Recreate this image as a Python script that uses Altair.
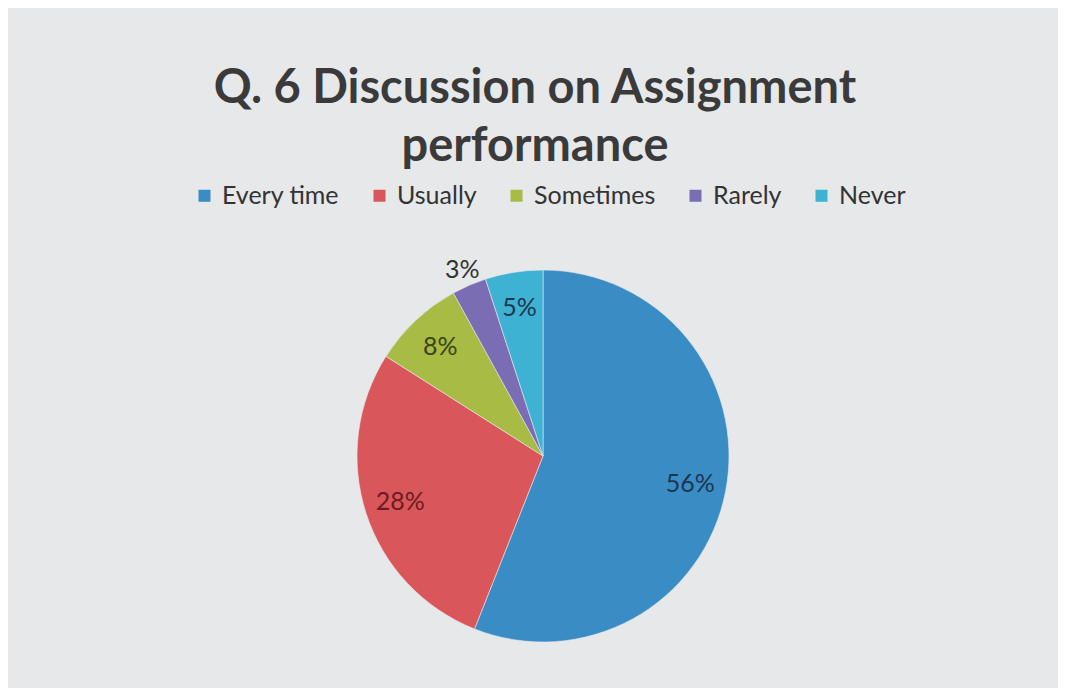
import altair as alt
import pandas as pd

CATEGORIES = ["Every time", "Usually", "Sometimes", "Rarely", "Never"]
PERCENTS = [56, 28, 8, 3, 5]
COLORS = ["#3a8cc4", "#d9575b", "#a7bb45", "#7b6db3", "#3db2d3"]
LABEL_COLORS = ["#1d3650", "#6e1b20", "#3b4418", "#333333", "#1d3650"]
TITLE_LINES = ["Q. 6 Discussion on Assignment", "performance"]

df = pd.DataFrame({
    "category": CATEGORIES,
    "pct": PERCENTS,
    "order": list(range(len(CATEGORIES))),
    "label": [f"{p}%" for p in PERCENTS],
    "lcolor": LABEL_COLORS,
})
title_df = pd.DataFrame({"line": TITLE_LINES, "row": list(range(len(TITLE_LINES)))})

W, H = 1050, 680
CX, CY = 535, 448
R = 186

theta_scale = alt.Scale(domain=[0, 100], range=[0, 6.283185307179586])

color = alt.Color(
    "category:N",
    scale=alt.Scale(domain=CATEGORIES, range=COLORS),
    sort=CATEGORIES,
    legend=alt.Legend(
        title=None,
        orient="none",
        legendX=184,
        legendY=175,
        direction="horizontal",
        symbolType="square",
        symbolSize=144,
        symbolStrokeWidth=0,
        labelFontSize=25,
        labelFont="Lato",
        labelColor="#333333",
        columnPadding=27,
        labelOffset=5,
    ),
)

pie = alt.Chart(df).mark_arc(outerRadius=R, stroke="#e8eaec", strokeWidth=0.6).encode(
    theta=alt.Theta("pct:Q", stack=True, scale=theta_scale),
    order=alt.Order("order:Q"),
    color=color,
    x=alt.value(CX),
    y=alt.value(CY),
)

labels = alt.Chart(df).transform_window(
    cum="sum(pct)", sort=[alt.SortField("order", order="ascending")]
).transform_calculate(
    mid="datum.cum - datum.pct / 2",
    rad="datum.pct < 4 ? 203 : 150",
).mark_text(fontSize=25, font="Lato").encode(
    text="label:N",
    theta=alt.Theta("mid:Q", scale=theta_scale),
    radius=alt.Radius("rad:Q", scale=None),
    color=alt.Color("lcolor:N", scale=None),
    x=alt.value(CX),
    y=alt.value(CY),
)

title = alt.Chart(title_df).mark_text(
    fontSize=47, font="Lato", fontWeight="bold", color="#3a3a3a", baseline="alphabetic"
).encode(
    text="line:N",
    x=alt.value(527),
    y=alt.Y("row:Q", scale=alt.Scale(domain=[0, 1], range=[95, 153]), axis=None),
)

chart = alt.layer(title, pie, labels).resolve_scale(
    color="independent", y="independent"
).properties(
    width=W, height=H,
    autosize=alt.AutoSizeParams(type="none"),
    padding=0,
    background="#e6e8ea",
).configure_view(stroke=None)

chart.save("out.html", embed_options={"renderer": "svg", "actions": False})
